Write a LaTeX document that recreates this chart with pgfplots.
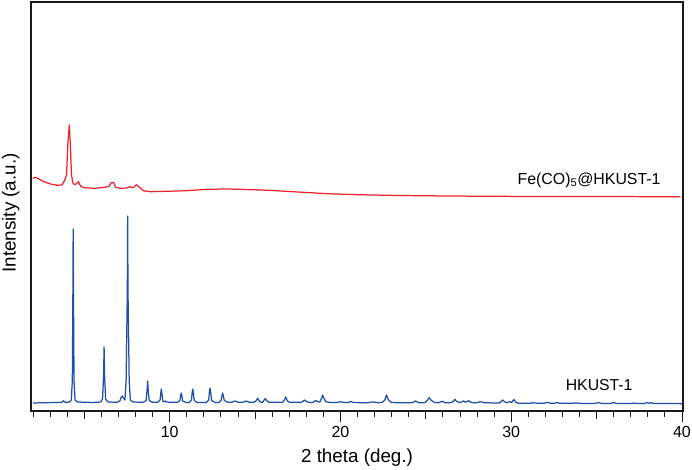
\documentclass[border=0pt]{standalone}
\usepackage{pgfplots}
\pgfplotsset{compat=1.18}
\usepackage{fontspec}
\setmainfont{Liberation Sans}
\definecolor{xrdblue}{HTML}{1F4FA8}
\definecolor{xrdred}{HTML}{F0232B}
\definecolor{spine}{HTML}{1A1A1A}
\begin{document}
\begin{tikzpicture}[x=1bp,y=1bp]
\path[use as bounding box] (0,0) rectangle (692,470);
\begin{axis}[
  at={(31bp,59bp)}, anchor=south west,
  scale only axis, width=652bp, height=409bp,
  xmin=1.88, xmax=40.06, ymin=0, ymax=409,
  axis line style={spine, line width=1.1pt},
  xtick={10,20,30,40},
  minor xtick={2,3,4,6,7,8,9,11,12,13,14,16,17,18,19,21,22,23,24,26,27,28,29,31,32,33,34,36,37,38,39},
  extra x ticks={5,15,25,35},
  extra x tick labels={},
  extra x tick style={major tick length=8.5bp},
  ytick=\empty,
  tick align=outside, xtick pos=lower,
  major tick length=11bp, minor tick length=6bp,
  tick style={spine, line width=0.9pt},
  /pgf/number format/assume math mode=true,
  ticklabel style={font=\fontsize{16bp}{16bp}\selectfont},
  xticklabel style={yshift=-0.5bp},
  xlabel={2 theta (deg.)},
  ylabel={Intensity (a.u.)},
  label style={font=\fontsize{18.8bp}{19bp}\selectfont},
  xlabel style={at={(axis description cs:0.5,-0.115)}, anchor=center},
  ylabel style={at={(axis description cs:-0.031,0.484)}, anchor=center},
]
\addplot[xrdblue, line width=1.25pt, line join=round] coordinates {
(2.0,8.0)(3.0,8.4)(3.65,8.5)(3.74,9.4)(3.78,10.2)(3.82,9.4)(3.92,8.6)(4.14,9)(4.24,11)(4.3,30)(4.33,110)(4.35,182)(4.37,110)(4.4,30)(4.46,11)(4.6,9)
(5.5,8.5)(5.95,9)(6.07,12)(6.13,35)(6.16,64)(6.19,35)(6.25,12)(6.38,9)
(6.9,8.7)(7.08,10)(7.17,14)(7.23,15)(7.29,13)(7.38,11)(7.45,30)(7.52,120)(7.54,195)(7.56,120)(7.63,30)(7.7,11)(7.85,9)
(8.45,8.7)(8.62,10.5)(8.68,22)(8.71,30)(8.74,22)(8.8,10.5)(8.98,8.8)
(9.3,8.7)(9.44,11)(9.48,18)(9.51,22)(9.54,18)(9.6,10)(9.68,9)(9.75,10)(9.85,8.9)
(10.45,8.6)(10.6,10.5)(10.65,16)(10.68,18)(10.71,16)(10.76,10)(10.95,8.6)
(11.15,8.6)(11.28,11)(11.32,19)(11.35,22)(11.38,19)(11.44,10.5)(11.6,8.6)
(12.15,8.6)(12.29,11)(12.33,20)(12.36,23)(12.39,20)(12.46,10.5)(12.65,8.6)
(12.9,8.6)(13.02,11)(13.07,16)(13.1,18)(13.13,16)(13.2,10.5)(13.4,8.8)
(13.65,8.8)(13.82,10)(14.0,8.8)(14.3,8.8)(14.48,10)(14.65,8.8)(14.95,8.7)(15.07,10.5)(15.15,12.7)(15.23,10.5)(15.35,8.7)
(15.45,8.8)(15.53,11)(15.6,12.4)(15.67,10.5)(15.8,8.8)
(16.6,8.6)(16.72,11)(16.8,14)(16.88,10.5)(17,8.8)
(17.7,8.6)(17.82,10)(17.9,11)(17.98,9.8)(18.15,8.6)
(18.4,8.6)(18.5,10)(18.57,10.5)(18.65,9.3)(18.8,9)(18.9,13)(18.96,16)(19.02,13)(19.15,9.2)(19.4,8.6)
(19.8,8.5)(20,9.3)(20.2,8.5)(20.45,8.4)(20.6,9.5)(20.78,8.4)(21.6,8.3)(21.9,9.1)(22.2,8.3)
(22.45,8.6)(22.6,11)(22.7,16)(22.8,11.5)(22.95,8.8)(23.3,8.2)(24.2,8.2)(24.4,10)(24.6,8.2)
(24.95,8.4)(25.1,11)(25.2,13.3)(25.3,11)(25.5,8.5)(25.75,8.3)(25.95,9.7)(26.15,8.3)
(26.5,8.4)(26.62,10)(26.7,11.7)(26.78,9.9)(26.95,8.4)(27.1,9.1)(27.2,10)(27.3,9)(27.42,9.4)(27.5,10.3)(27.6,9)(27.8,8.1)
(27.95,8.2)(28.2,9.3)(28.45,8.2)(29.3,8)(29.42,9.6)(29.5,11)(29.58,9.6)(29.72,8.2)(29.85,9)(29.92,9.3)(30.02,8.5)(30.08,9.8)(30.15,11.5)(30.25,9)(30.4,7.8)
(31.1,7.8)(31.3,8.2)(31.6,7.7)(31.95,7.8)(32.1,8.6)(32.3,7.8)(32.55,7.8)(32.7,8.4)(32.85,7.7)(33.6,7.7)(33.8,8.1)(34.1,7.6)(34.9,7.6)(35.1,8.4)(35.3,7.6)
(35.8,7.6)(36,8.4)(36.2,7.5)(37.0,7.5)(37.2,7.9)(37.45,7.4)(37.8,7.5)(37.95,8.5)(38.08,7.6)(38.2,8.4)(38.35,7.5)(39,7.5)(39.3,7.6)(40,7.3)
};
\addplot[xrdred, line width=1.25pt, line join=round] coordinates {
(1.98,232.7)(2.15,233.7)(2.34,232)(2.63,229.3)(3.02,227)(3.41,225.7)(3.7,226)(3.86,231)(3.96,236)(4.04,267.7)(4.12,286)(4.18,268)(4.25,236)(4.35,227)
(4.5,226.7)(4.66,229.3)(4.78,225)(4.97,223.3)(5.56,222.7)(6.24,223.7)(6.47,225)(6.57,228.3)(6.73,228.3)(6.83,223.7)(7.12,222.7)(7.5,223)(7.66,224.3)(7.82,223.3)(7.95,224.3)(8.05,226.3)(8.19,224.3)(8.3,223)(8.44,220.3)(8.87,219.3)(9.85,219.7)(11,220.3)(12.19,221.7)(13.36,222)(14.13,221.7)
(15,221.2)(16,220.5)(17,219.5)(18,218.5)(19,217.5)(20,216.8)(21,216.3)(23,215.6)(25,215.2)(27,214.9)(30,214.6)(33,214.5)(36,214.4)(39.9,214.3)
};
\node[font=\fontsize{15.8bp}{16bp}\selectfont, anchor=center] at (axis cs:35.15,26) {HKUST-1};
\node[font=\fontsize{15.9bp}{16bp}\selectfont, anchor=center] at (axis cs:34.56,231) {Fe(CO)\textsubscript{5}@HKUST-1};
\end{axis}
\end{tikzpicture}
\end{document}
